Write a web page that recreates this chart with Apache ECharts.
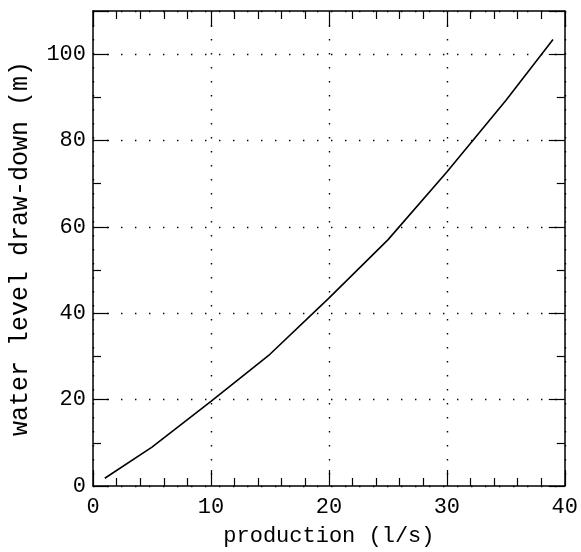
<!DOCTYPE html>
<html>
<head>
<meta charset="utf-8">
<script src="https://cdn.jsdelivr.net/npm/echarts@6/dist/echarts.min.js"></script>
<style>
  html, body { margin: 0; padding: 0; background: #fff; }
  #chart { width: 581px; height: 552px; }
</style>
</head>
<body>
<div id="chart"></div>
<script>
// Production rate (l/s) and resulting water level draw-down (m)
const production = [1, 5, 10, 15, 20, 25, 30, 35, 39];
const drawdown = [1.8, 9.0, 19.6, 30.5, 43.5, 57.0, 72.7, 89.3, 103.4];

const xTitle = 'production (l/s)';
const yTitle = 'water level draw-down (m)';

const FONT = '"Liberation Mono", "DejaVu Sans Mono", monospace';
const INK = '#000';

const chart = echarts.init(document.getElementById('chart'), null, { renderer: 'canvas' });

const baseX = {
  type: 'value', min: 0, max: 40, interval: 10,
  axisLine: { show: true, onZero: false, lineStyle: { color: INK, width: 1.5 } },
  axisTick: { show: true, inside: true, length: 16, lineStyle: { color: INK, width: 1.2 } },
  minorTick: { show: true, splitNumber: 5, length: 8, lineStyle: { color: INK, width: 1.2 } },
  splitLine: { show: false },
  minorSplitLine: { show: false }
};
const baseY = {
  type: 'value', min: 0, max: 110, interval: 20,
  axisLine: { show: true, onZero: false, lineStyle: { color: INK, width: 1.5 } },
  axisTick: { show: true, inside: true, length: 16, lineStyle: { color: INK, width: 1.2 } },
  minorTick: { show: true, splitNumber: 2, length: 8, lineStyle: { color: INK, width: 1.2 } },
  splitLine: { show: false },
  minorSplitLine: { show: false }
};

chart.setOption({
  animation: false,
  backgroundColor: '#fff',
  grid: { left: 88, right: 15, top: 11, bottom: 65, containLabel: false },
  xAxis: [
    Object.assign({}, baseX, {
      position: 'bottom',
      name: xTitle, nameLocation: 'middle', nameGap: 39,
      nameTextStyle: { fontFamily: FONT, fontSize: 22, color: INK },
      axisLabel: { fontFamily: FONT, fontSize: 22, color: INK, margin: 10 },
      splitLine: { show: true, lineStyle: { color: INK, width: 1.4, type: [1.4, 12.6] } }
    }),
    Object.assign({}, baseX, { position: 'top', axisLabel: { show: false } })
  ],
  yAxis: [
    Object.assign({}, baseY, {
      position: 'left',
      name: yTitle, nameLocation: 'middle', nameGap: 60,
      nameTextStyle: { fontFamily: FONT, fontSize: 25, color: INK },
      axisLabel: { fontFamily: FONT, fontSize: 22, color: INK, margin: 7,
        formatter: v => (v > 100 ? '' : String(v)) },
      splitLine: { show: true, lineStyle: { color: INK, width: 1.4, type: [1.4, 12.6] } }
    }),
    Object.assign({}, baseY, { position: 'right', axisLabel: { show: false } })
  ],
  series: [{
    type: 'line',
    xAxisIndex: 0, yAxisIndex: 0,
    data: production.map((x, i) => [x, drawdown[i]]),
    showSymbol: false,
    smooth: false,
    lineStyle: { color: INK, width: 1.6 }
  }]
});
</script>
</body>
</html>
